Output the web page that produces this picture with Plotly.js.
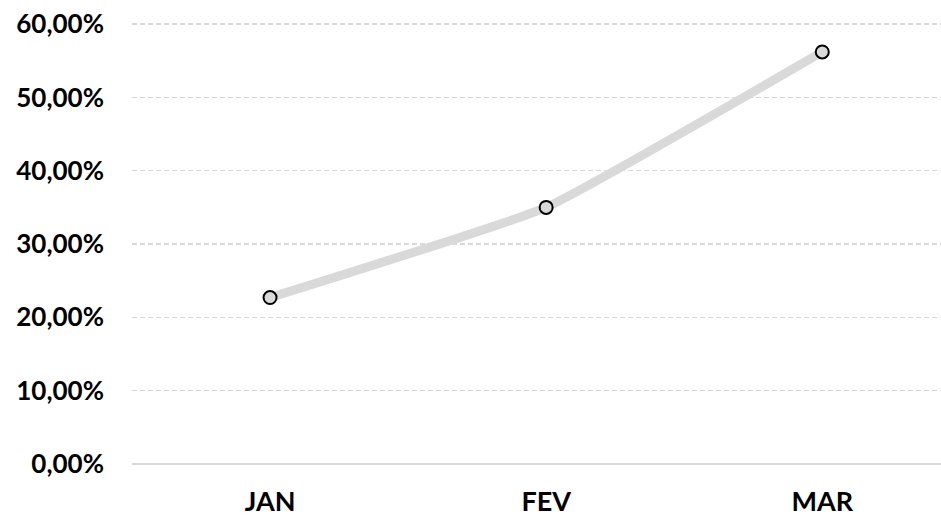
<!DOCTYPE html>
<html>
<head>
<meta charset="utf-8">
<script src="https://cdn.plot.ly/plotly-3.0.1.min.js"></script>
<style>html,body{margin:0;padding:0;background:#fff;}#chart{width:941px;height:518px;}</style>
</head>
<body>
<div id="chart"></div>
<script>
const categories = ["JAN", "FEV", "MAR"];
const values = [0.227, 0.350, 0.562];
const yTickVals = [0, 0.1, 0.2, 0.3, 0.4, 0.5, 0.6];
const yTickText = ["0,00%", "10,00%", "20,00%", "30,00%", "40,00%", "50,00%", "60,00%"];

const trace = {
  x: categories,
  y: values,
  type: "scatter",
  mode: "lines+markers",
  line: {color: "#d9d9d9", width: 9, shape: "spline", smoothing: 0.35},
  marker: {size: 13, color: "#d9d9d9", line: {color: "#000", width: 2}},
  hoverinfo: "skip"
};

const layout = {
  width: 941, height: 518,
  margin: {l: 132, r: 0, t: 23, b: 54},
  paper_bgcolor: "#fff", plot_bgcolor: "#fff",
  showlegend: false,
  font: {family: "Lato, 'Open Sans', sans-serif", size: 20, color: "#000", weight: "bold"},
  xaxis: {
    type: "category",
    range: [-0.5, 2.43],
    showgrid: false, zeroline: false, showline: false,
    ticks: "", ticklabelstandoff: 19,
    tickfont: {family: "Lato, sans-serif", size: 27, color: "#000", weight: "bold"}
  },
  yaxis: {
    range: [0, 0.6015],
    tickvals: yTickVals, ticktext: yTickText,
    showgrid: true, gridcolor: "#d9d9d9", griddash: "5px,3px", gridwidth: 1.5,
    zeroline: true, zerolinecolor: "#d9d9d9", zerolinewidth: 2,
    showline: false, ticks: "", ticklabelstandoff: 27,
    tickfont: {family: "Lato, sans-serif", size: 26, color: "#000", weight: "bold"}
  }
};

Plotly.newPlot("chart", [trace], layout, {displayModeBar: false, staticPlot: true});
</script>
</body>
</html>
